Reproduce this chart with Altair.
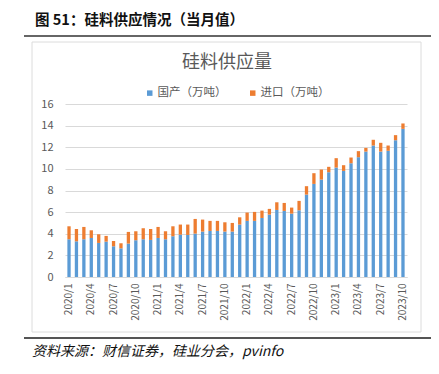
import altair as alt
import pandas as pd

months = ["2020/1","2020/2","2020/3","2020/4","2020/5","2020/6","2020/7","2020/8","2020/9","2020/10","2020/11","2020/12",
          "2021/1","2021/2","2021/3","2021/4","2021/5","2021/6","2021/7","2021/8","2021/9","2021/10","2021/11","2021/12",
          "2022/1","2022/2","2022/3","2022/4","2022/5","2022/6","2022/7","2022/8","2022/9","2022/10","2022/11","2022/12",
          "2023/1","2023/2","2023/3","2023/4","2023/5","2023/6","2023/7","2023/8","2023/9","2023/10"]
domestic = [3.49,3.30,3.49,3.61,3.15,3.27,2.84,2.65,3.09,3.40,3.49,3.43,
            3.61,3.49,3.77,3.92,3.89,4.01,4.20,4.26,4.26,4.20,4.20,4.85,
            5.19,5.19,5.46,5.77,6.20,6.11,5.86,6.17,7.62,8.61,9.01,9.69,
            10.12,9.81,10.52,11.08,11.60,12.16,11.60,11.67,12.65,13.70]
imports = [1.20,1.14,1.14,0.71,0.80,0.53,0.49,0.47,1.08,0.83,1.02,1.01,
           1.02,0.74,0.92,0.93,0.96,1.36,1.11,0.93,0.93,0.86,0.80,0.67,
           0.77,0.83,0.68,0.53,0.71,0.74,0.56,0.87,0.78,0.99,0.93,0.50,
           0.87,0.53,0.53,0.56,0.34,0.53,0.81,0.49,0.47,0.50]
series_names = ["国产（万吨）", "进口（万吨）"]
colors = ["#5B9BD5", "#ED7D31"]
x_tick_labels = months[::3]
y_ticks = [0, 2, 4, 6, 8, 10, 12, 14, 16]

header_text = "图 51：硅料供应情况（当月值）"
chart_title = "硅料供应量"
footer_text = "资料来源：财信证券，硅业分会，pvinfo"

FONT = "Noto Sans CJK SC"

rows = []
for m, d, i in zip(months, domestic, imports):
    rows.append({"month": m, "series": series_names[0], "value": d, "ord": 0})
    rows.append({"month": m, "series": series_names[1], "value": i, "ord": 1})
df = pd.DataFrame(rows)

bars = alt.Chart(df).mark_bar().encode(
    x=alt.X("month:N", sort=months,
            scale=alt.Scale(paddingInner=0.555, paddingOuter=0.32),
            axis=alt.Axis(title=None, values=x_tick_labels, labelAngle=270,
                          labelFontSize=10, labelColor="#595959", labelFont=FONT,
                          ticks=False, domain=True, domainColor="#D9D9D9",
                          labelPadding=6)),
    y=alt.Y("value:Q", stack="zero",
            scale=alt.Scale(domain=[0, 16], nice=False),
            axis=alt.Axis(title=None, values=y_ticks, ticks=False, domain=False,
                          gridColor="#D9D9D9", labelFontSize=11, labelColor="#595959",
                          labelFont=FONT, labelPadding=12)),
    color=alt.Color("series:N", sort=series_names,
                    scale=alt.Scale(domain=series_names, range=colors),
                    legend=alt.Legend(title=None, orient="none", legendX=79, legendY=-17,
                                      direction="horizontal", symbolType="square",
                                      symbolSize=30, symbolStrokeWidth=0,
                                      labelFontSize=11.5, labelColor="#595959",
                                      labelFont=FONT, columnPadding=20, labelOffset=2)),
    order=alt.Order("ord:Q"),
)

# frame lines drawn as pixel-space paths (scale=None)
box_path = pd.DataFrame({"px": [-33, 356, 356, -33, -33], "py": [-62, -62, 228, 228, -62],
                         "i": [0, 1, 2, 3, 4]})
top_path = pd.DataFrame({"px": [-41, 366], "py": [-68, -68], "i": [0, 1]})
bot_path = pd.DataFrame({"px": [-41, 366], "py": [234, 234], "i": [0, 1]})


def frame_line(data, color, width):
    return alt.Chart(data).mark_line(color=color, strokeWidth=width, clip=False).encode(
        x=alt.X("px:Q", scale=None, axis=None),
        y=alt.Y("py:Q", scale=None, axis=None),
        order="i:Q")


box = frame_line(box_path, "gainsboro", 1)
top_rule = frame_line(top_path, "#333333", 1.5)
bottom_rule = frame_line(bot_path, "#555555", 2)

header = alt.Chart(pd.DataFrame({"t": [header_text]})).mark_text(
    align="left", baseline="middle", fontSize=14.5, fontWeight="bold", font=FONT, color="#111111"
).encode(text="t:N", x=alt.value(-30), y=alt.value(-83))

title = alt.Chart(pd.DataFrame({"t": [chart_title]})).mark_text(
    align="center", baseline="middle", fontSize=18, font=FONT, color="#595959"
).encode(text="t:N", x=alt.value(162), y=alt.value(-41))

footer = alt.Chart(pd.DataFrame({"t": [footer_text]})).mark_text(
    align="left", baseline="middle", fontSize=14, font=FONT, fontStyle="italic", color="#111111"
).encode(text="t:N", x=alt.value(-33), y=alt.value(248))

chart = alt.layer(bars, box, top_rule, bottom_rule, header, title, footer).properties(
    width=342, height=173,
    autosize=alt.AutoSizeParams(type="none"),
    padding={"left": 57, "top": 96, "right": 24, "bottom": 89},
).configure_view(stroke=None)

chart.save("out.html", embed_options={"renderer": "svg", "actions": False})
